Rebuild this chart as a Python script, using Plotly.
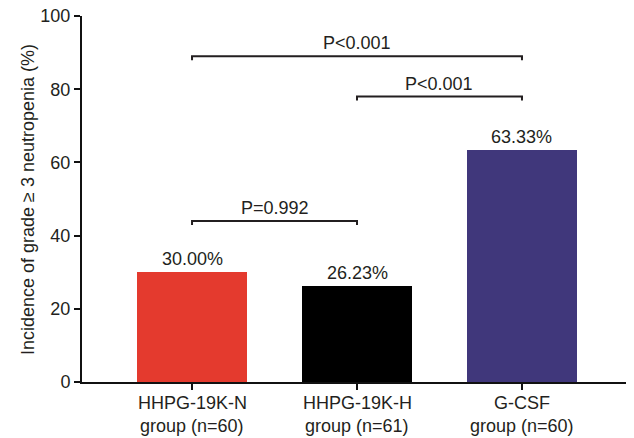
import plotly.graph_objects as go

categories = ["HHPG-19K-N", "HHPG-19K-H", "G-CSF"]
group_sizes = ["group (n=60)", "group (n=61)", "group (n=60)"]
values = [30.00, 26.23, 63.33]
value_labels = ["30.00%", "26.23%", "63.33%"]
bar_colors = ["#E43A2E", "#000000", "#40377B"]
y_ticks = [0, 20, 40, 60, 80, 100]
y_title = "Incidence of grade ≥ 3 neutropenia (%)"

# significance brackets: (start index, end index, height, label)
brackets = [
    (0, 2, 89, "P<0.001"),
    (1, 2, 78, "P<0.001"),
    (0, 1, 44, "P=0.992"),
]

FONT = "Liberation Sans, Arial, Helvetica, sans-serif"
TXT = "#231f20"
FS = 18

x_pos = list(range(len(categories)))

fig = go.Figure()
fig.add_trace(go.Bar(
    x=x_pos, y=values, width=0.667,
    marker=dict(color=bar_colors, line=dict(width=0)),
    hoverinfo="skip",
))

annotations = []
for xi, v, lab in zip(x_pos, values, value_labels):
    annotations.append(dict(x=xi, y=v, xref="x", yref="y", text=lab, showarrow=False,
                            yanchor="bottom", yshift=1, font=dict(size=FS, color=TXT, family=FONT)))

# category labels (two lines)
for xi, c, g in zip(x_pos, categories, group_sizes):
    annotations.append(dict(x=xi, y=0, xref="x", yref="y", text=c, showarrow=False,
                            yanchor="middle", yshift=-21, font=dict(size=FS, color=TXT, family=FONT)))
    annotations.append(dict(x=xi, y=0, xref="x", yref="y", text=g, showarrow=False,
                            yanchor="middle", yshift=-44, font=dict(size=FS, color=TXT, family=FONT)))

# y-axis title
annotations.append(dict(x=-0.0982, y=0.5, xref="paper", yref="paper", text=y_title, showarrow=False,
                        textangle=-90, xanchor="center", yanchor="middle",
                        font=dict(size=FS, color=TXT, family=FONT)))

shapes = []
drop = 1.1
for a, b, h, lab in brackets:
    shapes.append(dict(type="path", xref="x", yref="y",
                       path=f"M {a},{h - drop} L {a},{h} L {b},{h} L {b},{h - drop}",
                       line=dict(color=TXT, width=2)))
    annotations.append(dict(x=(a + b) / 2, y=h, xref="x", yref="y", text=lab, showarrow=False,
                            yanchor="bottom", yshift=1, font=dict(size=FS, color=TXT, family=FONT)))

fig.update_layout(
    width=626, height=430,
    margin=dict(l=74, r=2, t=8, b=56, autoexpand=False),
    paper_bgcolor="white", plot_bgcolor="white",
    showlegend=False,
    font=dict(family=FONT, color=TXT, size=FS),
    shapes=shapes, annotations=annotations,
    bargap=0,
)
fig.update_xaxes(
    range=[-0.667, 2.667], tickvals=x_pos, showticklabels=False,
    showline=True, linecolor="#111", linewidth=2,
    ticks="outside", ticklen=6, tickwidth=2, tickcolor="#111",
    showgrid=False, zeroline=False, automargin=False,
)
fig.update_yaxes(
    range=[0, 100], tickvals=y_ticks,
    showline=True, linecolor="#111", linewidth=2,
    ticks="outside", ticklen=6, tickwidth=2, tickcolor="#111",
    showgrid=False, zeroline=False, automargin=False,
    ticklabeloverflow="allow",
    tickfont=dict(size=FS, color=TXT, family=FONT),
)

fig.write_html("out.html")
